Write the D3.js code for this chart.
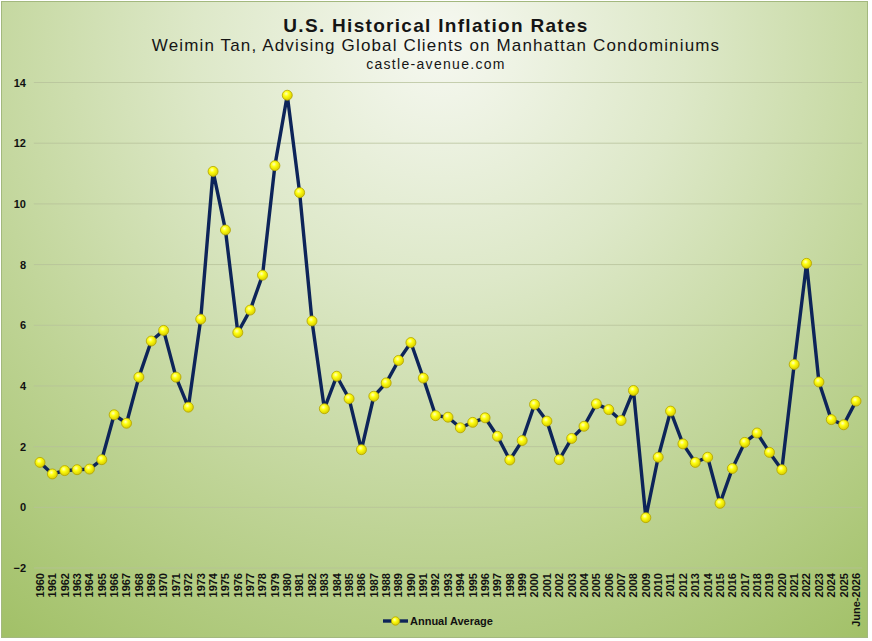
<!DOCTYPE html>
<html><head><meta charset="utf-8">
<script src="https://cdn.jsdelivr.net/npm/d3@7/dist/d3.min.js"></script>
<style>body{margin:0;background:#fff}svg{display:block}</style>
</head><body>
<script>
const years = ["1960","1961","1962","1963","1964","1965","1966","1967","1968","1969","1970","1971","1972","1973","1974","1975","1976","1977","1978","1979","1980","1981","1982","1983","1984","1985","1986","1987","1988","1989","1990","1991","1992","1993","1994","1995","1996","1997","1998","1999","2000","2001","2002","2003","2004","2005","2006","2007","2008","2009","2010","2011","2012","2013","2014","2015","2016","2017","2018","2019","2020","2021","2022","2023","2024","2025","June-2026"];
const annualAverage = [1.48,1.10,1.21,1.24,1.26,1.57,3.05,2.77,4.29,5.48,5.83,4.29,3.30,6.20,11.07,9.14,5.76,6.50,7.65,11.26,13.58,10.37,6.14,3.25,4.32,3.58,1.90,3.66,4.10,4.84,5.43,4.26,3.02,2.97,2.62,2.80,2.95,2.34,1.56,2.20,3.39,2.84,1.57,2.27,2.67,3.41,3.22,2.86,3.85,-0.34,1.65,3.17,2.09,1.48,1.65,0.13,1.28,2.14,2.45,1.81,1.24,4.71,8.04,4.13,2.89,2.72,3.50];
const yTicks = [-2,0,2,4,6,8,10,12,14];
const seriesName = "Annual Average";

const W = 872, H = 641;
const svg = d3.select("body").append("svg").attr("width", W).attr("height", H);
const defs = svg.append("defs");
const bg = defs.append("radialGradient").attr("id","bg")
  .attr("gradientUnits","userSpaceOnUse").attr("cx",440).attr("cy",40).attr("r",820)
  .attr("fx",440).attr("fy",40);
bg.append("stop").attr("offset","0%").attr("stop-color","#f6f8f1");
bg.append("stop").attr("offset","30%").attr("stop-color","#dde8c8");
bg.append("stop").attr("offset","60%").attr("stop-color","#bfd496");
bg.append("stop").attr("offset","100%").attr("stop-color","#98ba58");
const mg = defs.append("radialGradient").attr("id","mk").attr("cx","40%").attr("cy","35%").attr("r","65%");
mg.append("stop").attr("offset","0%").attr("stop-color","#ffffc0");
mg.append("stop").attr("offset","40%").attr("stop-color","#ffff10");
mg.append("stop").attr("offset","100%").attr("stop-color","#d8cc00");

svg.append("rect").attr("x",1.5).attr("y",1.5).attr("width",866).attr("height",636)
  .attr("fill","url(#bg)").attr("stroke","#a3b87e").attr("stroke-width",1);

const x = d3.scaleBand().domain(years).range([33.8, 862.2]);
const y = d3.scaleLinear().domain([-2,14]).range([568, 82.5]);
const cx = d => x(d) + x.bandwidth()/2;

const font = "'Liberation Sans', Arial, sans-serif";
// gridlines
svg.append("g").selectAll("line").data(yTicks).join("line")
  .attr("x1",33.8).attr("x2",862.2).attr("y1",d=>y(d)).attr("y2",d=>y(d))
  .attr("stroke","#b5c09a").attr("stroke-opacity",0.75).attr("stroke-width",1);

// y axis labels
const yAxis = d3.axisLeft(y).tickValues(yTicks).tickSize(0).tickPadding(0).tickFormat(d3.format("d"));
const ya = svg.append("g").attr("transform","translate(26,0)").call(yAxis);
ya.select(".domain").remove();
ya.selectAll("text").attr("font-family",font).attr("font-size",11).attr("font-weight","bold").attr("fill","#111");

// x axis labels
const xAxis = d3.axisBottom(x).tickSize(0).tickPadding(0);
const xa = svg.append("g").attr("transform","translate(0,572)").call(xAxis);
xa.select(".domain").remove();
xa.selectAll("text").attr("font-family",font).attr("font-size",11).attr("font-weight","bold").attr("fill","#111")
  .attr("transform","rotate(-90)").attr("text-anchor","end").attr("dy","0.35em").attr("x",-1).attr("y",0);

// line
const line = d3.line().x((d,i)=>cx(years[i])).y(d=>y(d));
svg.append("path").datum(annualAverage).attr("d",line).attr("fill","none")
  .attr("stroke","#0d2459").attr("stroke-width",3.4).attr("stroke-linejoin","round");
svg.append("g").selectAll("circle").data(annualAverage).join("circle")
  .attr("cx",(d,i)=>cx(years[i])).attr("cy",d=>y(d)).attr("r",5)
  .attr("fill","url(#mk)").attr("stroke","#b3a300").attr("stroke-width",0.8);

// titles
svg.append("text").attr("x",436).attr("y",31.5).attr("text-anchor","middle")
  .attr("font-family",font).attr("font-size",19).attr("font-weight","bold").attr("letter-spacing",1.3)
  .attr("fill","#151515").text("U.S. Historical Inflation Rates");
svg.append("text").attr("x",436).attr("y",51).attr("text-anchor","middle")
  .attr("font-family",font).attr("font-size",17).attr("letter-spacing",1.15)
  .attr("fill","#151515").text("Weimin Tan, Advising Global Clients on Manhattan Condominiums");
svg.append("text").attr("x",436).attr("y",68.5).attr("text-anchor","middle")
  .attr("font-family",font).attr("font-size",14).attr("letter-spacing",1.3)
  .attr("fill","#151515").text("castle-avenue.com");

// legend
const lg = svg.append("g").attr("transform","translate(383,621)");
lg.append("line").attr("x1",0).attr("x2",25).attr("y1",0).attr("y2",0).attr("stroke","#0d2459").attr("stroke-width",3.4);
lg.append("circle").attr("cx",12.5).attr("cy",0).attr("r",4.2).attr("fill","url(#mk)").attr("stroke","#b3a300").attr("stroke-width",0.8);
lg.append("text").attr("x",27).attr("y",0).attr("dy","0.35em").attr("font-family",font).attr("font-size",11)
  .attr("font-weight","bold").attr("fill","#111").text(seriesName);
</script>
</body></html>
